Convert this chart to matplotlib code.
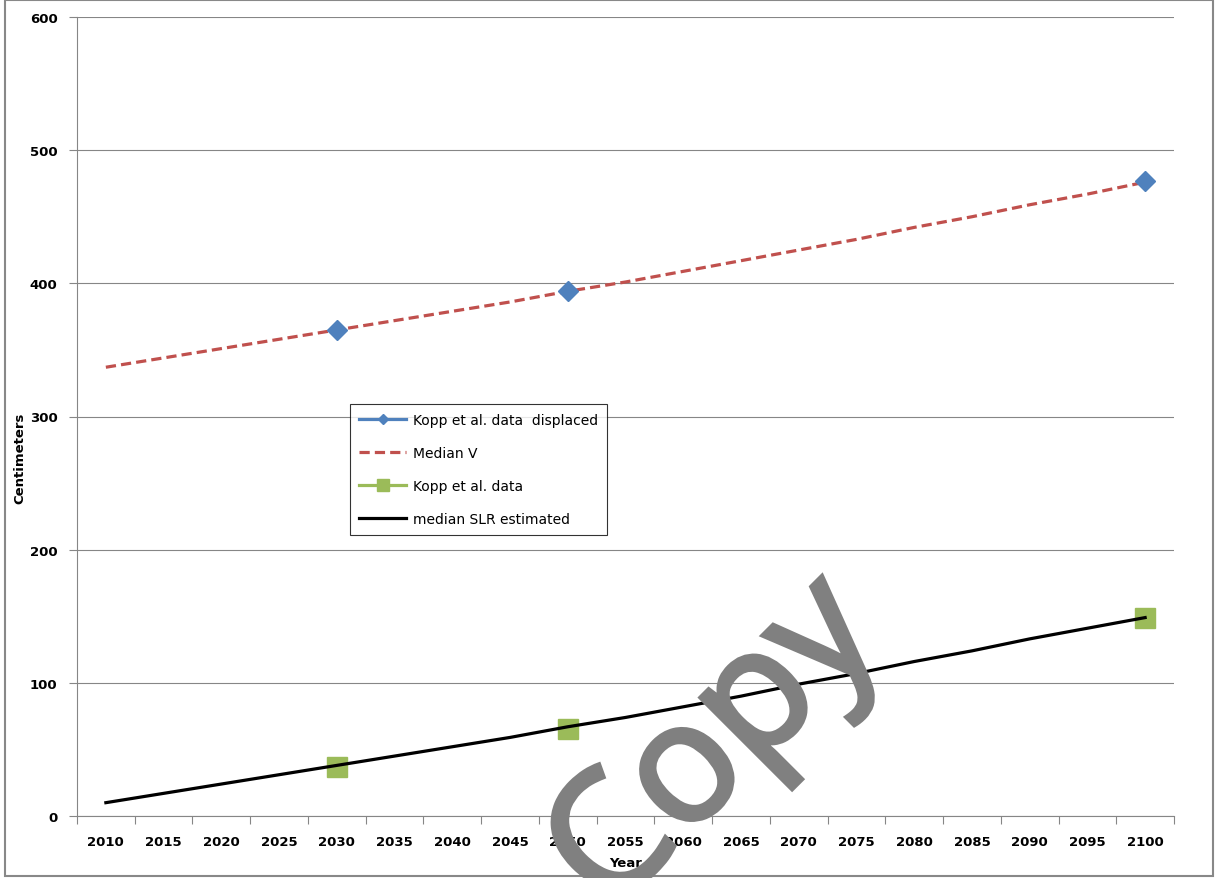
import matplotlib.pyplot as plt
import numpy as np
from matplotlib.lines import Line2D
from matplotlib.patches import Rectangle
import matplotlib.patheffects as pe

years = [2010, 2015, 2020, 2025, 2030, 2035, 2040, 2045, 2050, 2055,
         2060, 2065, 2070, 2075, 2080, 2085, 2090, 2095, 2100]
median_v = [337, 344, 351, 358, 365, 372, 379, 386, 394, 401,
            409, 417, 425, 433, 442, 450, 459, 467, 476]
median_slr = [10, 17, 24, 31, 38, 45, 52, 59, 67, 74,
              82, 90, 99, 107, 116, 124, 133, 141, 149]
kopp_years = [2030, 2050, 2100]
kopp_displaced = [365, 394, 477]
kopp_data = [37, 65, 149]

blue = '#4F81BD'
red = '#C0504D'
green = '#9BBB59'
grid_col = '#868686'

fig = plt.figure(figsize=(12.27, 8.79), dpi=100)
ax = fig.add_axes([77/1227, 1-817/879, (1174-77)/1227, (817-18)/879])

x = np.arange(len(years))
kx = [years.index(y) for y in kopp_years]

ax.plot(x, median_v, color=red, lw=2.3, dashes=(3.2, 1.6), zorder=3)
ax.plot(x, median_slr, color='black', lw=2.3, zorder=3)
ax.plot(kx, kopp_displaced, 'D', color=blue, ms=10.5, zorder=4)
ax.plot(kx, kopp_data, 's', color=green, ms=14, zorder=2)

ax.set_xlim(-0.5, len(years) - 0.5)
ax.set_ylim(0, 600)
ax.set_yticks(range(0, 601, 100))
ax.yaxis.grid(True, color=grid_col, lw=0.8)
ax.set_axisbelow(True)

ax.set_xticks(np.arange(len(years) + 1) - 0.5)
ax.set_xticklabels([])
ax.set_xticks(x, minor=True)
ax.set_xticklabels([str(y) for y in years], minor=True, fontweight='bold', fontsize=9.5)
ax.tick_params(axis='x', which='major', length=6, color=grid_col, width=0.8)
ax.tick_params(axis='x', which='minor', length=0, pad=14)
ax.tick_params(axis='y', length=6, color=grid_col, width=0.8, pad=8, labelsize=9.5)
for lab in ax.get_yticklabels():
    lab.set_fontweight('bold')

for s in ['top', 'right']:
    ax.spines[s].set_visible(False)
for s in ['left', 'bottom']:
    ax.spines[s].set_color(grid_col)
    ax.spines[s].set_linewidth(0.8)

fig.text(20/1227, 1-458/879, 'Centimeters', rotation=90, ha='center', va='center',
         fontweight='bold', fontsize=9.5)
fig.text(626/1227, 1-864/879, 'Year', ha='center', va='center',
         fontweight='bold', fontsize=9.5)

handles = [
    Line2D([], [], color=blue, lw=2.3, marker='D', ms=5.5),
    Line2D([], [], color=red, lw=2.3, dashes=(3.2, 1.6)),
    Line2D([], [], color=green, lw=2.3, marker='s', ms=9),
    Line2D([], [], color='black', lw=2.3),
]
labels = ['Kopp et al. data  displaced', 'Median V', 'Kopp et al. data',
          'median SLR estimated']
leg = fig.legend(handles, labels, loc='upper left',
                 bbox_to_anchor=(350/1227, 1-405/879), fontsize=10,
                 frameon=True, fancybox=False, edgecolor='black',
                 handlelength=3.4, handletextpad=0.5, labelspacing=1.37,
                 borderpad=0.65, borderaxespad=0)
leg.get_frame().set_linewidth(0.8)

# outer chart border
fig.patches.append(Rectangle((5/1227, 2/879), 1208/1227, 876/879,
                             transform=fig.transFigure, fill=False,
                             edgecolor='#888888', lw=1.5))

# watermark
fig.text(716/1227, 1-748/879, 'Copy', rotation=45, rotation_mode='anchor',
         ha='center', va='center', fontsize=120, color='#808080',
         family='Open Sans', zorder=10,
         path_effects=[pe.withStroke(linewidth=3.5, foreground='#808080',
                                     joinstyle='miter', capstyle='butt')])

fig.savefig('out.png', dpi=100)
